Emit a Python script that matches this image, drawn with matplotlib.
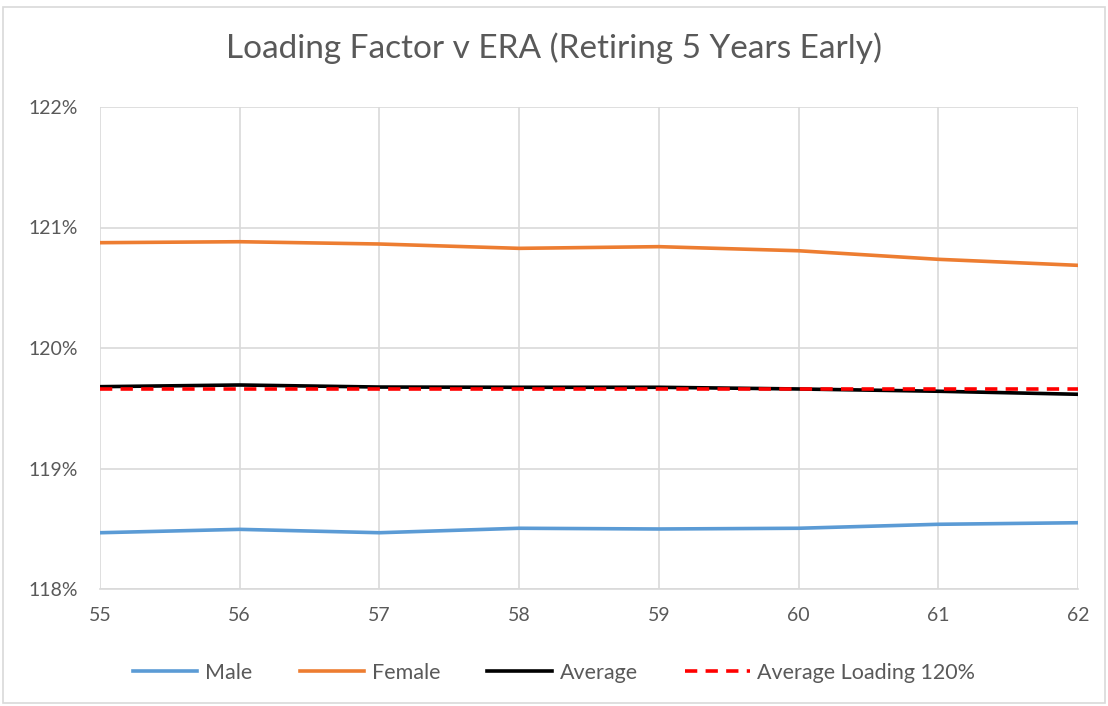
import matplotlib
matplotlib.use("Agg")
import matplotlib.pyplot as plt
from matplotlib.patches import Rectangle
from matplotlib.ticker import FuncFormatter, MultipleLocator

ages = [55, 56, 57, 58, 59, 60, 61, 62]
male = [118.467, 118.495, 118.467, 118.504, 118.498, 118.504, 118.537, 118.550]
female = [120.874, 120.882, 120.863, 120.827, 120.841, 120.807, 120.736, 120.686]
average = [119.679, 119.693, 119.676, 119.674, 119.674, 119.660, 119.641, 119.616]
avg_loading = [119.66] * 8

plt.rcParams['font.family'] = ['Lato', 'DejaVu Sans']
txt = '#595959'
grid = '#d9d9d9'

fig = plt.figure(figsize=(11.08, 7.06), dpi=100)
fig.patch.set_facecolor('white')
W, H = 1108, 706
ax = fig.add_axes([100 / W, 1 - 589 / H, (1078 - 100) / W, (589 - 107) / H])

ax.plot(ages, male, color='#5b9bd5', lw=2.6, label='Male')
ax.plot(ages, female, color='#ed7d31', lw=2.6, label='Female')
ax.plot(ages, average, color='#000000', lw=2.6, label='Average')
ax.plot(ages, avg_loading, color='#ff0000', lw=2.6, dashes=(3.4, 2.3), label='Average Loading 120%')

ax.set_xlim(55, 62)
ax.set_ylim(118, 122)
ax.yaxis.set_major_locator(MultipleLocator(1))
ax.xaxis.set_major_locator(MultipleLocator(1))
ax.yaxis.set_major_formatter(FuncFormatter(lambda v, p: f'{v:.0f}%'))
ax.grid(True, color=grid, lw=1.2)
ax.set_axisbelow(True)
for s in ['top', 'right', 'left']:
    ax.spines[s].set_visible(False)
ax.spines['bottom'].set_color(grid)
ax.spines['bottom'].set_linewidth(1.2)
ax.tick_params(axis='both', length=0, labelsize=14, colors=txt)
ax.tick_params(axis='x', pad=13)
ax.tick_params(axis='y', pad=16)

fig.text(0.5, 1 - 48 / H, 'Loading Factor v ERA (Retiring 5 Years Early)', ha='center', va='center',
         fontsize=24, color=txt)

leg = fig.legend(loc='center', bbox_to_anchor=(0.5, 1 - 673 / H), ncol=4, frameon=False,
                 fontsize=15.5, handlelength=3.0, columnspacing=2.2, handletextpad=0.35)
for t in leg.get_texts():
    t.set_color(txt)

fig.patches.append(Rectangle((3 / W, 3 / H), 1 - 6 / W, 1 - 10 / H, transform=fig.transFigure,
                             fill=False, edgecolor=grid, lw=1.2))

fig.savefig('out.png', dpi=100)
